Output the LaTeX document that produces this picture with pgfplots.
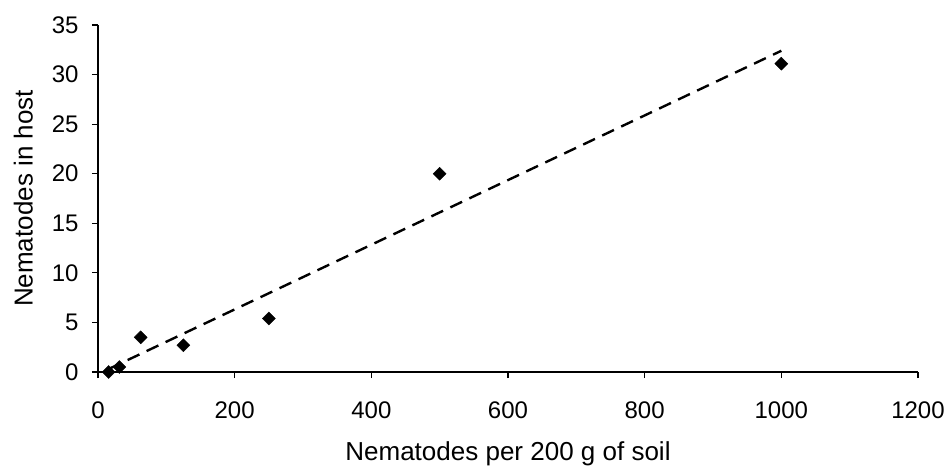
\documentclass[border=0pt]{standalone}
\usepackage{pgfplots}
\pgfplotsset{compat=1.18}
\usepackage{fontspec}
\setmainfont{Liberation Sans}
\begin{document}
\begin{tikzpicture}[x=1pt,y=1pt]
\useasboundingbox (-98,-97) rectangle (848,372);
\begin{axis}[
  at={(0,0)}, anchor=south west,
  scale only axis, width=820pt, height=347pt,
  xmin=0, xmax=1200, ymin=0, ymax=35,
  axis x line=bottom, axis y line=left,
  axis line style={-, line width=1.3pt},
  tick align=outside, major tick length=6pt,
  tick style={line width=1.2pt, black},
  xtick={0,200,...,1200}, ytick={0,5,...,35},
  /pgf/number format/assume math mode=true,
  /pgf/number format/1000 sep={},
  scaled ticks=false,
  xticklabel style={font=\fontsize{24}{28}\selectfont, yshift=-20pt},
  yticklabel style={font=\fontsize{24}{28}\selectfont, xshift=-10pt},
  xlabel={Nematodes per 200 g of soil},
  ylabel={Nematodes in host},
  label style={font=\fontsize{26}{30}\selectfont},
  xlabel style={yshift=-16pt},
  ylabel style={yshift=12pt},
  clip=false,
]
\addplot[only marks, mark=square*, mark size=4.6pt, mark options={rotate=45, fill=black, draw=black}]
  coordinates {(15.6,0) (31.25,0.5) (62.5,3.5) (125,2.7) (250,5.4) (500,20) (1000,31.1)};
\addplot[black, line width=2.4pt, dash pattern=on 13pt off 8pt]
  coordinates {(15.6,0.3) (1000,32.4)};
\end{axis}
\end{tikzpicture}
\end{document}
